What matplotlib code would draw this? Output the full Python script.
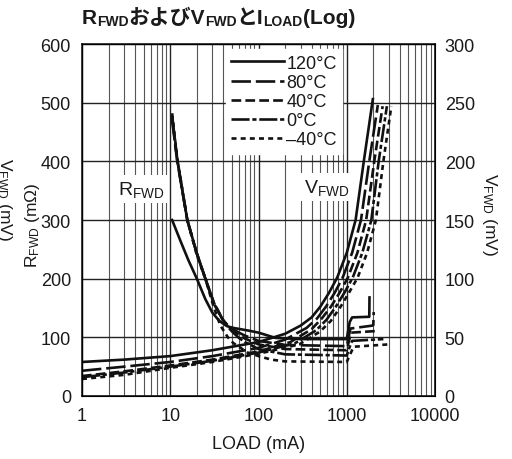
import matplotlib
matplotlib.use('Agg')
import matplotlib.pyplot as plt
from matplotlib.ticker import FixedLocator, LogLocator, NullFormatter

FONTS = ['Liberation Sans', 'Noto Sans CJK JP', 'DejaVu Sans']
plt.rcParams['font.family'] = FONTS
plt.rcParams['lines.scale_dashes'] = False

# ---- data ----
temps = ['120°C', '80°C', '40°C', '0°C', '\u201340°C']

# VFWD (mV, right axis)
v120_x = [1, 3, 10, 30, 100, 200, 300, 400, 500, 630, 780, 1000, 1260, 1560, 1975]
v120_y = [29, 31, 34, 39, 46, 53, 60, 67, 76, 88, 101, 122, 150, 200, 253]
v80_x = [1, 3, 10, 30, 100, 200, 350, 460, 580, 730, 900, 1150, 1450, 1800, 2250]
v80_y = [21.5, 25, 29, 34, 41, 48, 58, 66, 76, 88, 101, 122, 150, 200, 248]
v40_x = [1, 3, 10, 30, 100, 230, 400, 520, 660, 830, 1030, 1320, 1660, 2050, 2550]
v40_y = [17, 21, 26, 31, 38, 46, 57, 66, 76, 88, 101, 122, 150, 200, 247]
v0_x = [1, 3, 10, 30, 100, 260, 450, 590, 750, 940, 1170, 1500, 1900, 2300, 2850]
v0_y = [16, 20, 25, 30, 37, 45, 56, 65, 76, 88, 101, 122, 150, 200, 247]
vm40_x = [1, 3, 10, 30, 100, 290, 500, 660, 850, 1060, 1330, 1700, 2140, 2600, 3200]
vm40_y = [14.5, 18, 24, 29, 36, 44, 55, 64, 76, 88, 101, 122, 150, 200, 247]

# RFWD (mOhm, left axis)
r120_x = [10.5, 13, 16, 20, 25, 30, 36, 44, 52, 62, 80, 100, 156, 300, 1000,
          1040, 1080, 1150, 1780, 1800, 1810]
r120_y = [300, 265, 232, 200, 165, 142, 128, 119, 116, 114, 111, 108, 99, 97, 97,
          112, 126, 134, 135, 135, 168]
r80_x = [10.5, 12, 15.6, 20, 25, 31, 39, 45, 50, 60, 70, 100, 200, 1000, 1050, 1100, 1950, 2000, 2020]
r80_y = [470, 400, 300, 243, 200, 160, 131, 120, 115, 108, 103, 94, 87, 85, 100, 115, 120, 121, 143]
r40_x = [10.5, 12, 15.6, 20, 25, 31, 39, 45, 50, 60, 70, 100, 200, 1000, 1060, 1120, 2300]
r40_y = [475, 402, 300, 243, 200, 160, 131, 118, 112, 104, 98, 88, 80, 78, 94, 108, 111]
r0_x = [10.5, 12, 15.6, 20, 25, 31, 39, 45, 50, 60, 70, 100, 200, 1000, 1070, 1150, 2600]
r0_y = [478, 404, 300, 243, 200, 158, 131, 118, 110, 99, 92, 80, 71, 69, 82, 94, 97]
rm40_x = [10.5, 12, 15.6, 20, 25, 31, 37, 45, 52, 60, 75, 100, 140, 200, 1000, 1100, 1200, 3000]
rm40_y = [482, 405, 300, 240, 200, 152, 120, 100, 90, 84, 74, 68, 62, 59, 58, 72, 84, 88]

v_series = [(v120_x, v120_y), (v80_x, v80_y), (v40_x, v40_y), (v0_x, v0_y), (vm40_x, vm40_y)]
r_series = [(r120_x, r120_y), (r80_x, r80_y), (r40_x, r40_y), (r0_x, r0_y), (rm40_x, rm40_y)]

x_ticks = [1, 10, 100, 1000, 10000]
x_labels = ['1', '10', '100', '1000', '10000']
left_ticks = [0, 100, 200, 300, 400, 500, 600]
right_ticks = [0, 50, 100, 150, 200, 250, 300]

styles = ['-', (0, (14, 3.5)), (0, (7, 3)), (0, (13, 2, 3, 2)), (0, (3.6, 3))]
INK = '#1a1a1a'

W, H = 512, 460
fig = plt.figure(figsize=(W / 100, H / 100), dpi=100)
ax = fig.add_axes([82 / W, 1 - 397 / H, (435 - 82) / W, (397 - 45) / H])
ax.set_xscale('log')
ax.set_xlim(1, 10000)
ax.set_ylim(0, 600)
ax.xaxis.set_major_locator(FixedLocator(x_ticks))
ax.set_xticklabels(x_labels)
ax.xaxis.set_minor_locator(LogLocator(base=10, subs=range(2, 10)))
ax.xaxis.set_minor_formatter(NullFormatter())
ax.set_yticks(left_ticks)
ax.grid(True, which='major', color='#222222', lw=1.0)
ax.grid(True, which='minor', axis='x', color='#555555', lw=0.8)
ax.tick_params(which='both', length=0, labelsize=13, colors=INK)
ax.tick_params(axis='y', pad=8)
ax.tick_params(axis='x', pad=8)
for s in ax.spines.values():
    s.set_linewidth(1.2)
    s.set_color(INK)

ax2 = ax.twinx()
ax2.set_ylim(0, 300)
ax2.set_yticks(right_ticks)
ax2.tick_params(length=0, labelsize=13, pad=7, colors=INK)

handles = []
for (rx, ry), (vx, vy), ls, lab in zip(r_series, v_series, styles, temps):
    h, = ax.plot(rx, ry, color='#111111', lw=1.9, linestyle=ls, label=lab)
    ax2.plot(vx, vy, color='#111111', lw=1.9, linestyle=ls)
    handles.append(h)

leg = ax2.legend(handles=handles, loc='upper left', bbox_to_anchor=((226 - 82) / 353, 0.985),
                 frameon=True, fancybox=False, framealpha=1, edgecolor='white',
                 fontsize=13, handlelength=2.9, handletextpad=0.15, labelspacing=0.12,
                 borderpad=0.3, borderaxespad=0)
for t in leg.get_texts():
    t.set_color(INK)

box = dict(facecolor='white', edgecolor='none', pad=3)
ax2.text((141 - 82) / 353, (397 - 190) / 352, r'$\mathregular{R_{FWD}}$', transform=ax2.transAxes,
         ha='center', va='center', fontsize=14, color=INK, bbox=box)
ax2.text((327 - 82) / 353, (397 - 188) / 352, r'$\mathregular{V_{FWD}}$', transform=ax2.transAxes,
         ha='center', va='center', fontsize=14, color=INK, bbox=box)

ax.set_xlabel('LOAD (mA)', fontsize=13, color=INK, labelpad=8)
fig.text(33 / W, 1 - 225 / H, r'$\mathregular{R_{FWD}}$ (mΩ)', rotation=90,
         ha='center', va='center', fontsize=12.5, color=INK)
fig.text(4 / W, 1 - 200 / H, r'$\mathregular{V_{FWD}}$ (mV)', rotation=-90,
         ha='center', va='center', fontsize=12.5, color=INK)
fig.text(489 / W, 1 - 215 / H, r'$\mathregular{V_{FWD}}$ (mV)', rotation=-90,
         ha='center', va='center', fontsize=12.5, color=INK)

# title with subscripts, built piece by piece
runs = [('R', False), ('FWD', True), ('およびV', False), ('FWD', True),
        ('とI', False), ('LOAD', True), ('(Log)', False)]
base_y = H - 24
prev = None
for txt, sub in runs:
    fs = 10 if sub else 15
    y = base_y - 2 if sub else base_y
    if prev is None:
        t = ax2.annotate(txt, xy=(82, y), xycoords='figure pixels', fontsize=fs,
                         fontweight='bold', ha='left', va='baseline', color=INK,
                         annotation_clip=False)
    else:
        t = ax2.annotate(txt, xy=(1, y), xycoords=(prev, 'figure pixels'), fontsize=fs,
                         fontweight='bold', ha='left', va='baseline', color=INK,
                         annotation_clip=False)
    prev = t

fig.savefig('out.png', dpi=100)
